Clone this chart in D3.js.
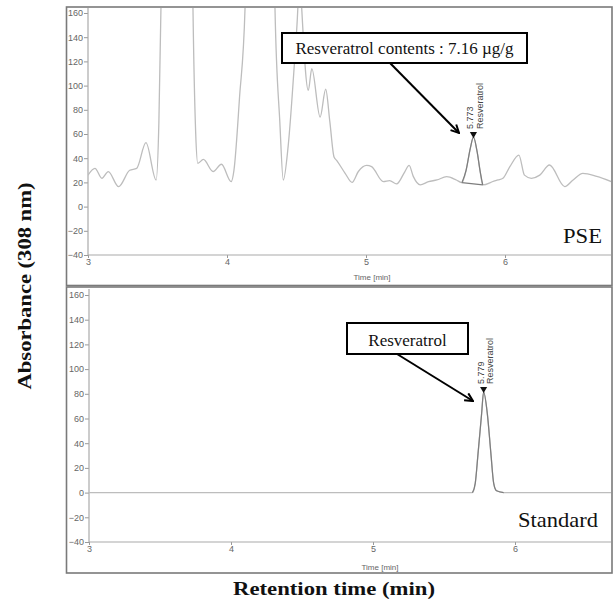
<!DOCTYPE html>
<html>
<head>
<meta charset="utf-8">
<script src="https://cdn.jsdelivr.net/npm/d3@7"></script>
<style>
  html, body { margin: 0; padding: 0; background: #fff; }
  svg { display: block; }
  .tick text { font-family: "Liberation Sans", Arial, sans-serif; font-size: 9px; fill: #666; }
</style>
</head>
<body>
<div id="chart"></div>
<script>
// chromatogram readings, time in min, absorbance in mAU (off-scale peaks estimated)
const pseTime = [3.00, 3.05, 3.10, 3.146, 3.22, 3.30, 3.35, 3.417, 3.49, 3.51, 3.525, 3.535, 3.64, 3.745, 3.755, 3.775,
  3.79, 3.83, 3.90, 3.96, 4.03, 4.05, 4.09, 4.13, 4.14, 4.24, 4.335, 4.345, 4.38, 4.405, 4.44, 4.48, 4.51, 4.522, 4.537,
  4.585, 4.61, 4.67, 4.71, 4.74, 4.77, 4.79, 4.85, 4.90, 4.945, 5.005, 5.04, 5.125, 5.17, 5.22, 5.28, 5.31, 5.34, 5.39,
  5.45, 5.51, 5.58, 5.65, 5.69, 5.72, 5.75, 5.773, 5.80, 5.82, 5.84, 5.92, 5.95, 5.985, 6.035, 6.10, 6.14, 6.19, 6.25,
  6.32, 6.43, 6.49, 6.56, 6.66, 6.78];
const pseAbs = [26, 31.6, 23.4, 28.9, 16.5, 30, 31.6, 52.8, 22, 70, 165, 260, 420, 260, 165, 60,
  35.8, 39, 29, 35, 20.6, 30, 90, 165, 260, 420, 260, 165, 70, 22, 50, 110, 165, 200, 165,
  96, 114, 74, 97, 70, 41, 38, 27.5, 20, 29, 34, 33, 20.6, 21.4, 18.7, 29, 34, 25, 18,
  20.6, 22, 24.7, 22, 19.8, 30, 48, 57.5, 45, 30, 17.9, 21, 22, 23.4, 33, 42.6, 26, 23.4, 26,
  34.4, 16.5, 22, 27.5, 25, 20];

const stdTime = [3.00, 5.70, 5.72, 5.74, 5.765, 5.779, 5.805, 5.83, 5.85, 5.87, 5.92, 6.78];
const stdAbs = [0, 0, 7.5, 32, 64, 81.5, 64, 32, 7.5, 1.5, 0, 0];

const yTicks = [-40, -20, 0, 20, 40, 60, 80, 100, 120, 140, 160];
const xTicks = [3, 4, 5, 6];

const pseWindow = [5.69, 5.84];      // integrated peak
const pseBaseline = [19.8, 17.9];
const stdWindow = [5.70, 5.92];
const pseLabels = [5.773];
const stdLabels = [5.779];
const peakNames = ['Resveratrol'];

const width = 613, height = 606;
const serif = '"Liberation Serif", "Times New Roman", serif';
const sans = '"Liberation Sans", Arial, sans-serif';

const svg = d3.select('#chart').append('svg')
  .attr('width', width).attr('height', height);

const panels = [
  { id: 'pse', time: pseTime, abs: pseAbs, frame: [66.5, 7, 545.5, 278.5], xr: [88, 505], yr: [255, 13], top: 8,
    win: pseWindow, base: pseBaseline, labels: pseLabels, timeLab: [372, 280], name: 'PSE', nameAt: [563, 242.5], nameLen: 39, nameSize: 20,
    box: [282, 33, 245, 30], boxText: 'Resveratrol contents : 7.16 \u00b5g/g', boxBase: 54, arrow: [390, 63, 459, 133] },
  { id: 'std', time: stdTime, abs: stdAbs, frame: [66.5, 287, 545.5, 286], xr: [89, 515], yr: [542, 295], top: 289,
    win: stdWindow, base: null, labels: stdLabels, timeLab: [380, 570], name: 'Standard', nameAt: [518, 527], nameLen: 80, nameSize: 21,
    box: [347, 323, 121, 31], boxText: 'Resveratrol', boxBase: 346, arrow: [397, 354, 473, 401] }
];

const defs = svg.append('defs');
defs.append('marker').attr('id', 'arr')
  .attr('viewBox', '0 0 10 10').attr('refX', 9).attr('refY', 5)
  .attr('markerWidth', 5).attr('markerHeight', 5).attr('orient', 'auto')
  .append('path').attr('d', 'M1,1 L9,5 L1,9').attr('fill', 'none')
  .attr('stroke', '#000').attr('stroke-width', 2);

const right = 611;

panels.forEach(p => {
  const x = d3.scaleLinear().domain([3, 6]).range(p.xr);
  const y = d3.scaleLinear().domain([-40, 160]).range(p.yr);
  const g = svg.append('g');

  g.append('rect').attr('x', p.frame[0]).attr('y', p.frame[1])
    .attr('width', p.frame[2]).attr('height', p.frame[3])
    .attr('fill', '#fff').attr('stroke', '#7a7a7a').attr('stroke-width', 1.6);

  defs.append('clipPath').attr('id', 'clip-' + p.id)
    .append('rect').attr('x', p.xr[0]).attr('y', p.top)
    .attr('width', right - p.xr[0]).attr('height', y(-40) - p.top);

  // axes
  const ya = d3.axisLeft(y).tickValues(yTicks).tickSize(4).tickPadding(1);
  const yg = g.append('g').attr('transform', `translate(${p.xr[0]},0)`).call(ya);
  yg.select('.domain').remove();
  yg.selectAll('.tick line').attr('stroke', '#999');
  g.append('line').attr('x1', p.xr[0]).attr('x2', p.xr[0]).attr('y1', p.top).attr('y2', y(-40))
    .attr('stroke', '#aaa').attr('stroke-width', 1.2);

  const xa = d3.axisBottom(x).tickValues(xTicks).tickFormat(d3.format('d')).tickSize(3).tickPadding(1);
  const xg = g.append('g').attr('transform', `translate(0,${y(-40)})`).call(xa);
  xg.select('.domain').remove();
  xg.selectAll('.tick line').attr('stroke', '#999');
  g.append('line').attr('x1', p.xr[0]).attr('x2', right).attr('y1', y(-40)).attr('y2', y(-40))
    .attr('stroke', '#aaa').attr('stroke-width', 1.2);

  g.append('text').attr('x', p.timeLab[0]).attr('y', p.timeLab[1])
    .attr('text-anchor', 'middle').attr('font-family', sans).attr('font-size', 8).attr('fill', '#666')
    .text('Time [min]');

  // trace
  const pts = p.time.map((t, i) => [t, p.abs[i]]);
  const line = d3.line().x(d => x(d[0])).y(d => y(d[1])).curve(d3.curveMonotoneX);
  const plot = g.append('g').attr('clip-path', `url(#clip-${p.id})`);
  plot.append('path').datum(pts).attr('d', line)
    .attr('fill', 'none').attr('stroke', '#bdbdbd').attr('stroke-width', 1.3);
  const seg = pts.filter(d => d[0] >= p.win[0] && d[0] <= p.win[1]);
  plot.append('path').datum(seg).attr('d', line)
    .attr('fill', 'none').attr('stroke', '#7d7d7d').attr('stroke-width', 1.2);
  if (p.base) {
    plot.append('line')
      .attr('x1', x(p.win[0])).attr('y1', y(p.base[0]))
      .attr('x2', x(p.win[1])).attr('y2', y(p.base[1]))
      .attr('stroke', '#7d7d7d').attr('stroke-width', 1.2);
  }

  // peak markers and labels
  p.labels.forEach((t, i) => {
    const k = p.time.indexOf(t);
    const px = x(t), py = y(p.abs[k]);
    g.append('path').attr('d', d3.symbol(d3.symbolTriangle, 22)())
      .attr('transform', `translate(${px},${py - 3}) rotate(180)`).attr('fill', '#111');
    g.append('text').attr('transform', `translate(${px},${py - 8}) rotate(-90)`)
      .attr('font-family', sans).attr('font-size', 9).attr('fill', '#444').text(d3.format('.3f')(t));
    g.append('text').attr('transform', `translate(${px + 9.5},${py - 8}) rotate(-90)`)
      .attr('font-family', sans).attr('font-size', 9).attr('fill', '#444').text(peakNames[i]);
  });

  // annotation box and arrow
  g.append('line').attr('x1', p.arrow[0]).attr('y1', p.arrow[1]).attr('x2', p.arrow[2]).attr('y2', p.arrow[3])
    .attr('stroke', '#000').attr('stroke-width', 2).attr('marker-end', 'url(#arr)');
  g.append('rect').attr('x', p.box[0]).attr('y', p.box[1]).attr('width', p.box[2]).attr('height', p.box[3])
    .attr('fill', '#fff').attr('stroke', '#000').attr('stroke-width', 2);
  g.append('text').attr('x', p.box[0] + p.box[2] / 2).attr('y', p.boxBase)
    .attr('text-anchor', 'middle').attr('font-family', serif).attr('font-size', 17).attr('fill', '#111')
    .text(p.boxText);

  g.append('text').attr('x', p.nameAt[0]).attr('y', p.nameAt[1])
    .attr('font-family', serif).attr('font-size', p.nameSize).attr('fill', '#111')
    .attr('textLength', p.nameLen).attr('lengthAdjust', 'spacingAndGlyphs')
    .text(p.name);
});

svg.append('text').attr('transform', 'translate(31,286) rotate(-90)')
  .attr('text-anchor', 'middle').attr('font-family', serif).attr('font-weight', 'bold')
  .attr('font-size', 18).attr('textLength', 207).attr('lengthAdjust', 'spacingAndGlyphs')
  .attr('fill', '#111').text('Absorbance (308 nm)');

svg.append('text').attr('x', 334).attr('y', 595)
  .attr('text-anchor', 'middle').attr('font-family', serif).attr('font-weight', 'bold')
  .attr('font-size', 18).attr('textLength', 202).attr('lengthAdjust', 'spacingAndGlyphs')
  .attr('fill', '#111').text('Retention time (min)');
</script>
</body>
</html>
